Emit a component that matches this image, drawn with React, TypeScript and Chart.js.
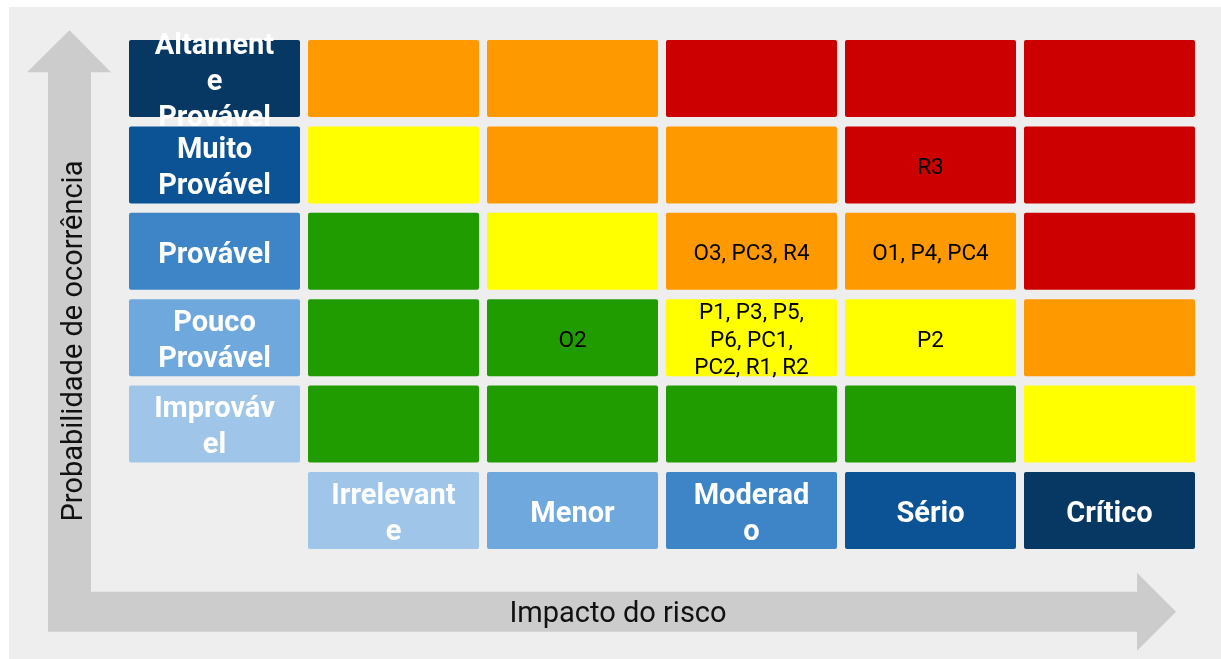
import React, { useEffect, useRef } from "react";
import { Chart, registerables } from "chart.js";

Chart.register(...registerables);

// Impact categories (x axis, left → right)
const impactLevels = ["Irrelevante", "Menor", "Moderado", "Sério", "Crítico"];
// Probability categories (y axis, bottom → top)
const probabilityLevels = ["Improvável", "Pouco Provável", "Provável", "Muito Provável", "Altamente Provável"];

// Risk level per cell (1 = baixo, 2 = médio, 3 = alto, 4 = extremo), rows bottom → top
const riskImprovavel = [1, 1, 1, 1, 2];
const riskPoucoProvavel = [1, 1, 2, 2, 3];
const riskProvavel = [1, 2, 3, 3, 4];
const riskMuitoProvavel = [2, 3, 3, 4, 4];
const riskAltamenteProvavel = [3, 3, 4, 4, 4];

// Risks placed in each cell
const itemsImprovavel = ["", "", "", "", ""];
const itemsPoucoProvavel = ["", "O2", "P1, P3, P5, P6, PC1, PC2, R1, R2", "P2", ""];
const itemsProvavel = ["", "", "O3, PC3, R4", "O1, P4, PC4", ""];
const itemsMuitoProvavel = ["", "", "", "R3", ""];
const itemsAltamenteProvavel = ["", "", "", "", ""];

const riskColors = ["#219c00", "#ffff00", "#ff9900", "#cc0000"];
const impactColors = ["#9fc5e8", "#6fa8dc", "#3d85c6", "#0b5394", "#073763"];
const probabilityColors = ["#9fc5e8", "#6fa8dc", "#3d85c6", "#0b5394", "#073763"];

const xTitle = "Impacto do risco";
const yTitle = "Probabilidade de ocorrência";

const HALF = 0.4456;

const riskRows = [riskImprovavel, riskPoucoProvavel, riskProvavel, riskMuitoProvavel, riskAltamenteProvavel];
const itemRows = [itemsImprovavel, itemsPoucoProvavel, itemsProvavel, itemsMuitoProvavel, itemsAltamenteProvavel];

function buildDatasets() {
  const sets: any[] = [];
  sets.push({
    label: "impacto",
    data: [null, ...impactLevels.map(() => [-HALF, HALF])],
    backgroundColor: ["rgba(0,0,0,0)", ...impactColors],
    cellText: ["", ...impactLevels],
    cellHeader: [true, true, true, true, true, true],
  });
  probabilityLevels.forEach((p, i) => {
    const r = i + 1;
    sets.push({
      label: p,
      data: [null, ...riskRows[i]].map(() => [r - HALF, r + HALF]),
      backgroundColor: [probabilityColors[i], ...riskRows[i].map((l) => riskColors[l - 1])],
      cellText: [p, ...itemRows[i]],
      cellHeader: [true, false, false, false, false, false],
    });
  });
  return sets.map((s) => ({
    ...s,
    grouped: false,
    barPercentage: 1,
    categoryPercentage: 171 / 179,
    borderRadius: 2,
    borderSkipped: false,
    borderWidth: 0,
  }));
}

function wrapText(ctx: CanvasRenderingContext2D, text: string, maxW: number): string[] {
  const lines: string[] = [];
  let cur = "";
  for (const word of text.split(" ")) {
    const cand = cur ? cur + " " + word : word;
    if (ctx.measureText(cand).width <= maxW) {
      cur = cand;
      continue;
    }
    if (cur) {
      lines.push(cur);
      cur = "";
    }
    if (ctx.measureText(word).width <= maxW) {
      cur = word;
      continue;
    }
    let piece = "";
    for (const ch of word) {
      if (ctx.measureText(piece + ch).width <= maxW || piece === "") piece += ch;
      else {
        lines.push(piece);
        piece = ch;
      }
    }
    cur = piece;
  }
  if (cur) lines.push(cur);
  return lines;
}

const decorPlugin = {
  id: "decor",
  beforeDraw(chart: any) {
    const { ctx, chartArea, width, height } = chart;
    const L = chartArea.left, T = chartArea.top, B = chartArea.bottom, R = chartArea.right;
    ctx.save();
    ctx.fillStyle = "#ffffff";
    ctx.fillRect(0, 0, width, height);
    ctx.fillStyle = "#eeeeee";
    ctx.fillRect(L - 116, T - 28.3, width, height);
    // L-shaped double arrow
    ctx.fillStyle = "#cccccc";
    ctx.beginPath();
    ctx.moveTo(L - 55.5, T - 5);
    ctx.lineTo(L - 14, T + 37);
    ctx.lineTo(L - 34, T + 37);
    ctx.lineTo(L - 34, B + 38);
    ctx.lineTo(R - 62, B + 38);
    ctx.lineTo(R - 62, B + 19);
    ctx.lineTo(R - 23, B + 58);
    ctx.lineTo(R - 62, B + 97);
    ctx.lineTo(R - 62, B + 78);
    ctx.lineTo(L - 77, B + 78);
    ctx.lineTo(L - 77, T + 37);
    ctx.lineTo(L - 98, T + 37);
    ctx.closePath();
    ctx.fill();
    // axis titles
    ctx.fillStyle = "#111111";
    ctx.font = "29px Roboto";
    ctx.textAlign = "center";
    ctx.textBaseline = "alphabetic";
    ctx.fillText(xTitle, L + 493, B + 68.6);
    ctx.save();
    ctx.translate(L - 43, T + 305.7);
    ctx.rotate(-Math.PI / 2);
    ctx.fillText(yTitle, 0, 0);
    ctx.restore();
    ctx.restore();
  },
  afterDatasetsDraw(chart: any) {
    const { ctx } = chart;
    chart.data.datasets.forEach((ds: any, di: number) => {
      const meta = chart.getDatasetMeta(di);
      meta.data.forEach((el: any, ci: number) => {
        const text = ds.cellText?.[ci];
        if (!text || ds.data[ci] == null) return;
        const props = el.getProps(["x", "y", "base", "width"], true);
        const left = props.x - props.width / 2;
        const w = props.width;
        const top = Math.min(props.y, props.base);
        const bottom = Math.max(props.y, props.base);
        const h = bottom - top;
        const pitch = chart.scales.y.getPixelForValue(0) - chart.scales.y.getPixelForValue(1);
        const gap = pitch - h;
        const header = ds.cellHeader[ci];
        const fs = header ? 29 : 22.5;
        ctx.save();
        ctx.beginPath();
        ctx.rect(left - 4, top - gap, w + 8, h + 2 * gap);
        ctx.clip();
        ctx.font = header ? `bold ${fs}px Roboto` : `${fs}px Roboto`;
        ctx.fillStyle = header ? "#ffffff" : "#000000";
        ctx.textAlign = "center";
        ctx.textBaseline = "alphabetic";
        const lines = wrapText(ctx, text, w - 42);
        const lh = header ? 36 : 27.6;
        const cy = (top + bottom) / 2;
        const cx = left + w / 2;
        lines.forEach((line, i) => {
          const mid = cy + (i - (lines.length - 1) / 2) * lh + 1;
          ctx.fillText(line, cx, mid + 0.3555 * fs);
        });
        ctx.restore();
      });
    });
  },
};

export default function App() {
  const ref = useRef<HTMLCanvasElement>(null);
  useEffect(() => {
    if (!ref.current) return;
    const chart = new Chart(ref.current, {
      type: "bar",
      data: {
        labels: ["", ...impactLevels],
        datasets: buildDatasets() as any,
      },
      options: {
        animation: false,
        responsive: false,
        devicePixelRatio: 1,
        layout: { padding: { left: 125, right: 22, top: 35.3, bottom: 105.3 } },
        plugins: { legend: { display: false }, tooltip: { enabled: false }, title: { display: false } },
        scales: {
          x: { type: "category", display: false, offset: true, grid: { display: false } },
          y: { type: "linear", display: false, min: -0.5, max: 5.5, grid: { display: false } },
        },
      } as any,
      plugins: [decorPlugin],
    });
    return () => chart.destroy();
  }, []);
  return (
    <div style={{ position: "fixed", left: 0, top: 0, width: 1221, height: 659 }}>
      <canvas ref={ref} width={1221} height={659} style={{ display: "block" }} />
    </div>
  );
}
